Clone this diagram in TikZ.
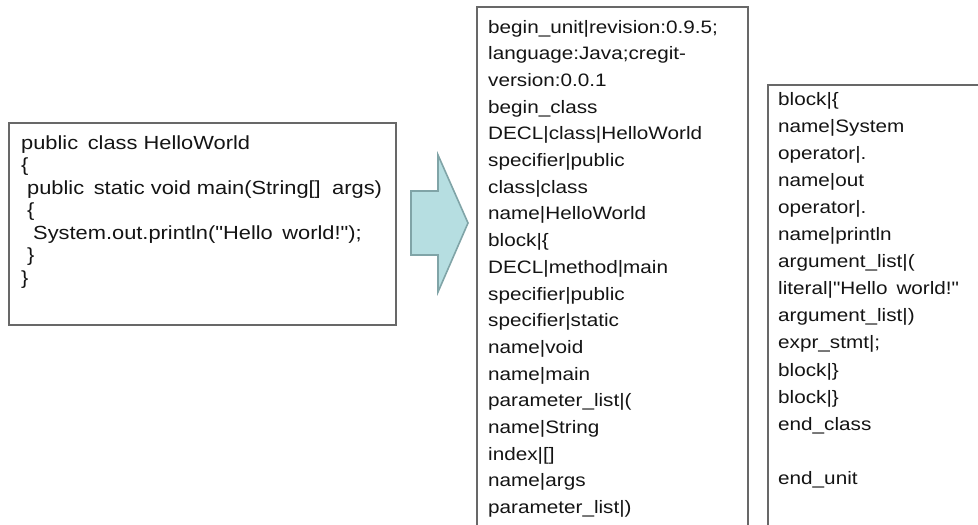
\documentclass[tikz,border=0pt]{standalone}
\usepackage{fontspec}
\newfontfamily\slidefont[FakeStretch=1.15]{Liberation Sans}
\definecolor{textc}{HTML}{141414}
\definecolor{boxc}{HTML}{686868}
\definecolor{arrfill}{HTML}{B6DEE1}
\definecolor{arrline}{HTML}{80A4A7}
\tikzset{
  txt/.style={anchor=base west, inner sep=0pt, text=textc, font=\slidefont\fontsize{18}{22}\selectfont},
  srctxt/.style={txt, font=\slidefont\fontsize{19}{22}\selectfont},
  panel/.style={draw=boxc, line width=1.4pt, fill=white},
  blockarrow/.style={fill=arrfill, draw=arrline, line width=1.6pt, line join=miter}
}
\begin{document}
\begin{tikzpicture}[x=1pt,y=-1pt]
\useasboundingbox (0,0) rectangle (978,525);
\clip (0,0) rectangle (978,525);
\fill[white] (0,0) rectangle (978,525);
% source box
\draw[panel] (9,123) rectangle (396,325);
\node[srctxt] (s1) at (21,149) {public\hspace{0.5em}class HelloWorld};
\node[srctxt] (s2) at (21,171.5) {\{};
\node[srctxt] (s3) at (27,194) {public\hspace{0.5em}static void main(String[]\hspace{0.6em}args)};
\node[srctxt] (s4) at (27,216.5) {\{};
\node[srctxt] (s5) at (33,239) {System.out.println("Hello\hspace{0.5em}world!");};
\node[srctxt] (s6) at (27,261.5) {\}};
\node[srctxt] (s7) at (21,284) {\}};
% block arrow
\draw[blockarrow] (411,191) -- (438,191) -- (438,155) -- (468,223) -- (438,292) -- (438,255) -- (411,255) -- cycle;
% middle box
\draw[panel] (477,7) rectangle (748,545);
\node[txt] (m0) at (488,33.0) {begin\_unit|revision:0.9.5;};
\node[txt] (m1) at (488,59.7) {language:Java;cregit-};
\node[txt] (m2) at (488,86.4) {version:0.0.1};
\node[txt] (m3) at (488,113.1) {begin\_class};
\node[txt] (m4) at (488,139.8) {DECL|class|HelloWorld};
\node[txt] (m5) at (488,166.5) {specifier|public};
\node[txt] (m6) at (488,193.2) {class|class};
\node[txt] (m7) at (488,219.9) {name|HelloWorld};
\node[txt] (m8) at (488,246.6) {block|\{};
\node[txt] (m9) at (488,273.3) {DECL|method|main};
\node[txt] (m10) at (488,300.0) {specifier|public};
\node[txt] (m11) at (488,326.7) {specifier|static};
\node[txt] (m12) at (488,353.4) {name|void};
\node[txt] (m13) at (488,380.1) {name|main};
\node[txt] (m14) at (488,406.8) {parameter\_list|(};
\node[txt] (m15) at (488,433.5) {name|String};
\node[txt] (m16) at (488,460.2) {index|[]};
\node[txt] (m17) at (488,486.9) {name|args};
\node[txt] (m18) at (488,513.6) {parameter\_list|)};
% right box
\draw[panel] (768,85) rectangle (995,545);
\node[txt] (r0) at (778,105.0) {block|\{};
\node[txt] (r1) at (778,132.1) {name|System};
\node[txt] (r2) at (778,159.2) {operator|.};
\node[txt] (r3) at (778,186.3) {name|out};
\node[txt] (r4) at (778,213.4) {operator|.};
\node[txt] (r5) at (778,240.5) {name|println};
\node[txt] (r6) at (778,267.6) {argument\_list|(};
\node[txt] (r7) at (778,294.7) {literal|"Hello\hspace{0.5em}world!"};
\node[txt] (r8) at (778,321.8) {argument\_list|)};
\node[txt] (r9) at (778,348.9) {expr\_stmt|;};
\node[txt] (r10) at (778,376.0) {block|\}};
\node[txt] (r11) at (778,403.1) {block|\}};
\node[txt] (r12) at (778,430.2) {end\_class};
\node[txt] (r13) at (778,484.4) {end\_unit};
\end{tikzpicture}
\end{document}
